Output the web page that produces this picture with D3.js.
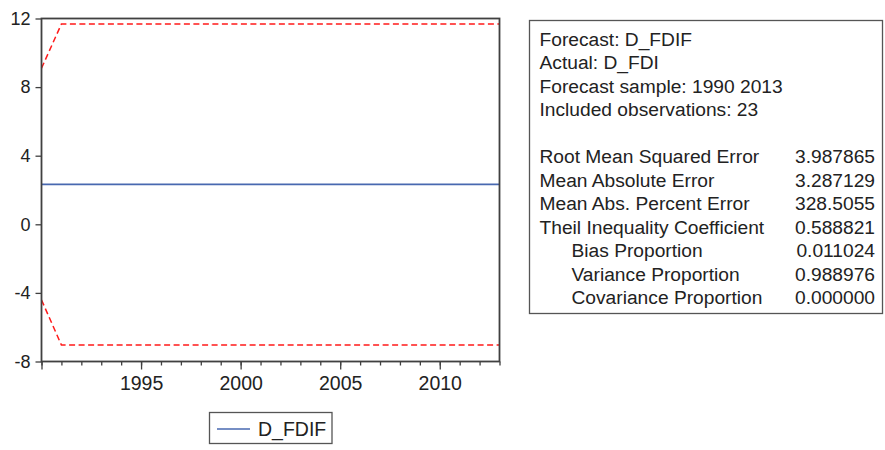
<!DOCTYPE html>
<html>
<head>
<meta charset="utf-8">
<script src="https://cdn.jsdelivr.net/npm/d3@7"></script>
<style>
    body { margin: 0; background: #fff; }
    svg { display: block; font-family: 'Liberation Sans', Arial, sans-serif; }
</style>
</head>
<body>
<svg id="chart" width="885" height="450"></svg>
<script>
// --- data
const YEARS = [1990, 1991, 1992, 1993, 1994, 1995, 1996, 1997, 1998, 1999, 2000, 2001,
    2002, 2003, 2004, 2005, 2006, 2007, 2008, 2009, 2010, 2011, 2012, 2013];
const FORECAST = [2.33, 2.33, 2.33, 2.33, 2.33, 2.33, 2.33, 2.33, 2.33, 2.33, 2.33, 2.33,
    2.33, 2.33, 2.33, 2.33, 2.33, 2.33, 2.33, 2.33, 2.33, 2.33, 2.33, 2.33];
const UPPER = [9.1, 11.68, 11.68, 11.68, 11.68, 11.68, 11.68, 11.68, 11.68, 11.68, 11.68, 11.68,
    11.68, 11.68, 11.68, 11.68, 11.68, 11.68, 11.68, 11.68, 11.68, 11.68, 11.68, 11.68];
const LOWER = [-4.41, -7.04, -7.04, -7.04, -7.04, -7.04, -7.04, -7.04, -7.04, -7.04, -7.04, -7.04,
    -7.04, -7.04, -7.04, -7.04, -7.04, -7.04, -7.04, -7.04, -7.04, -7.04, -7.04, -7.04];
const Y_TICKS = [-8, -4, 0, 4, 8, 12];
const X_LABELS = [1995, 2000, 2005, 2010];
const SERIES_NAME = 'D_FDIF';

const HEADER_LINES = [
    'Forecast: D_FDIF',
    'Actual: D_FDI',
    'Forecast sample: 1990 2013',
    'Included observations: 23'
];
const STAT_NAMES = [
    'Root Mean Squared Error',
    'Mean Absolute Error',
    'Mean Abs. Percent Error',
    'Theil Inequality Coefficient',
    'Bias Proportion',
    'Variance Proportion',
    'Covariance Proportion'
];
const STAT_VALUES = ['3.987865', '3.287129', '328.5055', '0.588821', '0.011024', '0.988976', '0.000000'];
const STAT_INDENT = [false, false, false, false, true, true, true];

const BLUE = '#4868b0';
const RED = '#ff1a1a';
const FRAME = '#404040';

function drawChart() {
    const svg = d3.select('#chart');
    const plot = { left: 41.5, right: 499.5, top: 18.5, bottom: 361.5 };

    const x = d3.scaleLinear()
        .domain([YEARS[0], YEARS[YEARS.length - 1]])
        .range([plot.left, plot.right]);

    const y = d3.scaleLinear()
        .domain([-8, 12])
        .range([plot.bottom, plot.top]);

    drawAxes(svg, x, y, plot);
    drawLines(svg, x, y);
    drawFrame(svg, plot);
    drawLegend(svg);
    drawStatsBox(svg);
}

function drawAxes(svg, x, y, plot) {
    // --- y axis, ticks outside on the left, plain hyphen for negatives
    let yAxis = svg.append('g')
        .attr('transform', `translate(${plot.left}, 0)`)
        .call(d3.axisLeft(y).tickValues(Y_TICKS).tickSize(6).tickPadding(5).tickFormat(d => String(d)));

    yAxis.select('.domain').remove();
    yAxis.selectAll('line').attr('stroke', FRAME).attr('stroke-width', 1.3);
    yAxis.selectAll('text')
        .attr('font-family', "'Liberation Sans', Arial, sans-serif")
        .attr('font-size', 18)
        .attr('fill', '#222');

    // --- x axis, minor ticks every year, major ones labelled
    let minor = svg.append('g')
        .attr('transform', `translate(0, ${plot.bottom})`)
        .call(d3.axisBottom(x).tickValues(YEARS).tickSize(4).tickFormat(''));
    minor.select('.domain').remove();
    minor.selectAll('line').attr('stroke', FRAME).attr('stroke-width', 1.3);

    let major = svg.append('g')
        .attr('transform', `translate(0, ${plot.bottom})`)
        .call(d3.axisBottom(x).tickValues([YEARS[0], ...X_LABELS]).tickSize(8).tickPadding(7)
            .tickFormat(d => X_LABELS.includes(d) ? d : ''));
    major.select('.domain').remove();
    major.selectAll('line').attr('stroke', FRAME).attr('stroke-width', 1.3);
    major.selectAll('text')
        .attr('font-family', "'Liberation Sans', Arial, sans-serif")
        .attr('font-size', 19.5)
        .attr('fill', '#222');
}

function drawLines(svg, x, y) {
    let lineFn = d3.line()
        .x(d => x(d[0]))
        .y(d => y(d[1]));

    svg.append('path')
        .datum(YEARS.map((yr, i) => [yr, FORECAST[i]]))
        .attr('fill', 'none')
        .attr('stroke', BLUE)
        .attr('stroke-width', 1.8)
        .attr('d', lineFn);

    [UPPER, LOWER].forEach(series => {
        svg.append('path')
            .datum(YEARS.map((yr, i) => [yr, series[i]]))
            .attr('fill', 'none')
            .attr('stroke', RED)
            .attr('stroke-width', 1.5)
            .attr('stroke-dasharray', '6,3.5')
            .attr('d', lineFn);
    });
}

function drawFrame(svg, plot) {
    svg.append('rect')
        .attr('x', plot.left)
        .attr('y', plot.top)
        .attr('width', plot.right - plot.left)
        .attr('height', plot.bottom - plot.top)
        .attr('fill', 'none')
        .attr('stroke', FRAME)
        .attr('stroke-width', 1.8);
}

function drawLegend(svg) {
    let g = svg.append('g');

    g.append('rect')
        .attr('x', 209.5)
        .attr('y', 412.5)
        .attr('width', 122.5)
        .attr('height', 31)
        .attr('fill', '#fff')
        .attr('stroke', '#555')
        .attr('stroke-width', 1.3);

    g.append('line')
        .attr('x1', 217)
        .attr('x2', 250)
        .attr('y1', 429)
        .attr('y2', 429)
        .attr('stroke', BLUE)
        .attr('stroke-width', 1.6);

    g.append('text')
        .attr('x', 258)
        .attr('y', 436)
        .attr('font-size', 19.5)
        .attr('fill', '#222')
        .text(SERIES_NAME);
}

function drawStatsBox(svg) {
    const box = { x: 529, y: 20, w: 353, h: 293 };
    const lineH = 23.5;
    const textX = 539.5;
    const valueX = 875;
    const firstBaseline = 45.7;

    let g = svg.append('g').attr('font-size', 19.2).attr('fill', '#222');

    g.append('rect')
        .attr('x', box.x + 0.5)
        .attr('y', box.y + 0.5)
        .attr('width', box.w)
        .attr('height', box.h)
        .attr('fill', '#fff')
        .attr('stroke', '#555')
        .attr('stroke-width', 1.3);

    g.selectAll('.header')
        .data(HEADER_LINES)
        .enter()
        .append('text')
        .attr('class', 'header')
        .attr('x', textX)
        .attr('y', (d, i) => firstBaseline + i * lineH)
        .text(d => d);

    let statTop = firstBaseline + (HEADER_LINES.length + 1) * lineH;

    g.selectAll('.statName')
        .data(STAT_NAMES)
        .enter()
        .append('text')
        .attr('class', 'statName')
        .attr('x', (d, i) => textX + (STAT_INDENT[i] ? 32 : 0))
        .attr('y', (d, i) => statTop + i * lineH)
        .text(d => d);

    g.selectAll('.statValue')
        .data(STAT_VALUES)
        .enter()
        .append('text')
        .attr('class', 'statValue')
        .attr('x', valueX)
        .attr('y', (d, i) => statTop + i * lineH)
        .attr('text-anchor', 'end')
        .text(d => d);
}

drawChart();
</script>
</body>
</html>
